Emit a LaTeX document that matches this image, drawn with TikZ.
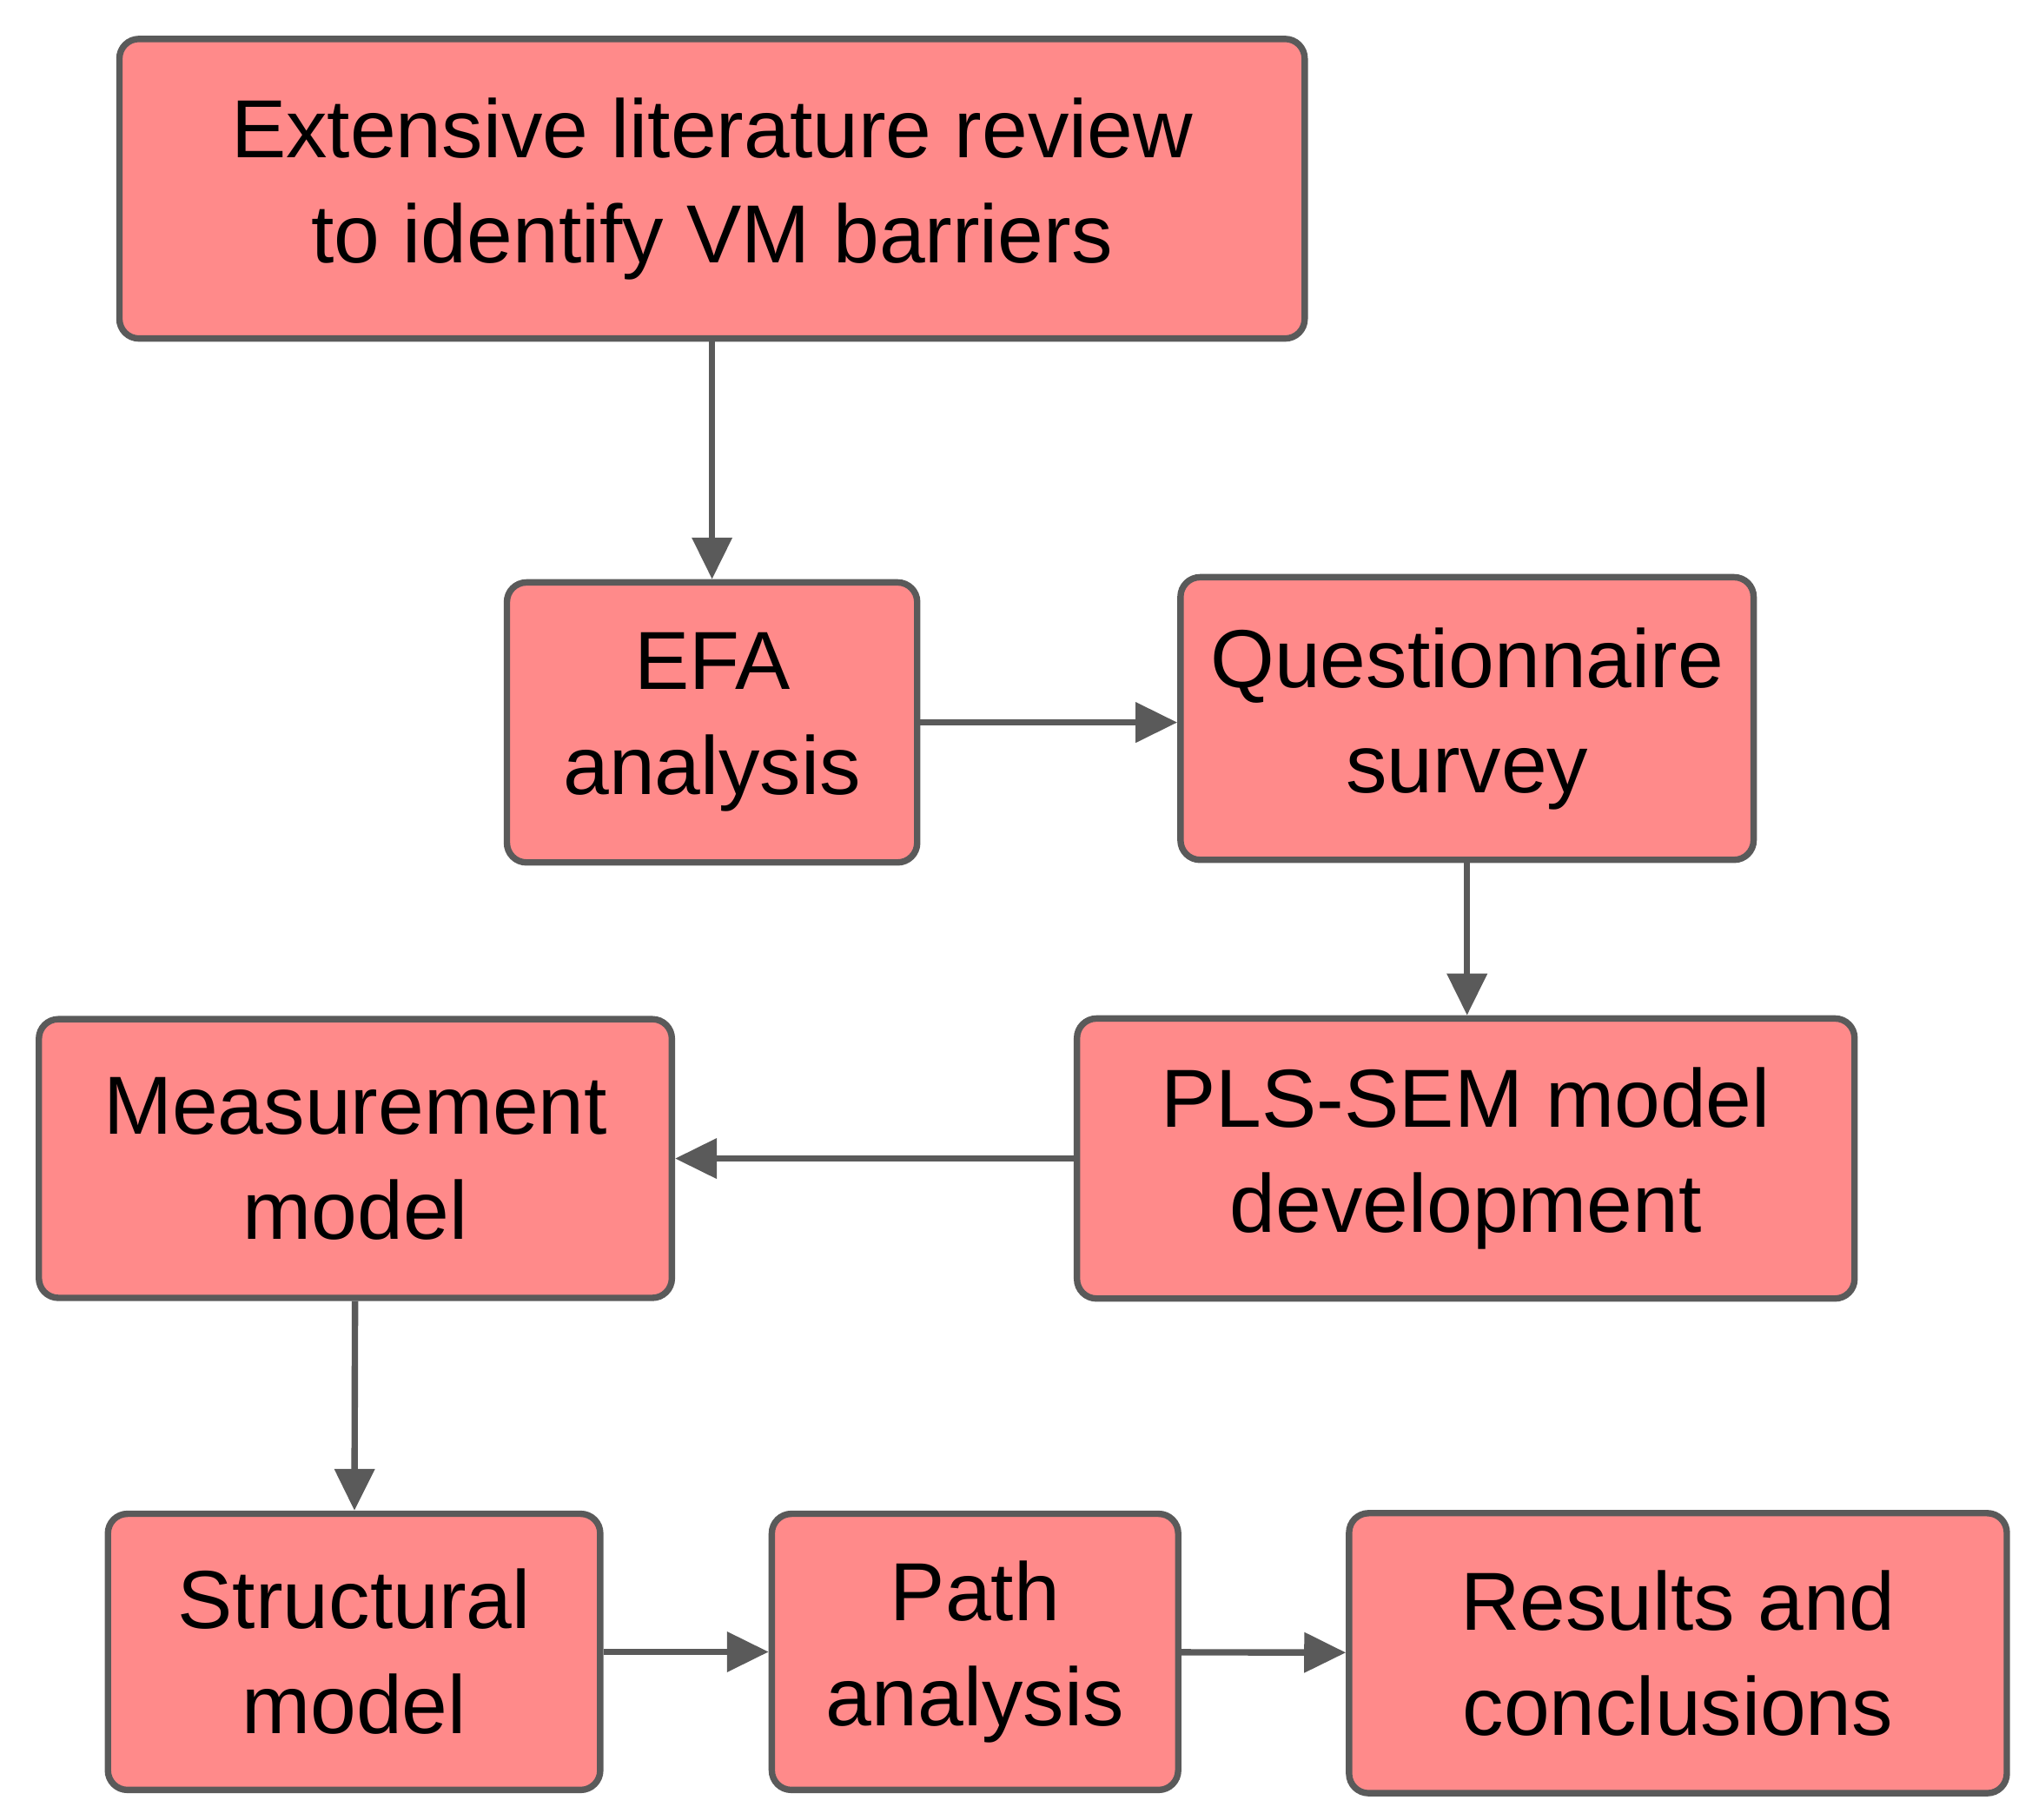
\documentclass[tikz,border=0pt]{standalone}
\usepackage{fontspec}
\setmainfont{Liberation Sans}
\usetikzlibrary{arrows.meta}
\definecolor{boxfill}{HTML}{FF8A8A}
\definecolor{boxline}{HTML}{5A5A5A}
\begin{document}
\begin{tikzpicture}[x=0.01cm,y=-0.01cm]
  \tikzset{stage/.style={rectangle, rounded corners=0.15cm, draw=boxline, fill=boxfill,
      line width=1.4pt, align=center, inner sep=0pt,
      font=\fontsize{18}{23}\selectfont}}
  \tikzset{flow/.style={draw=boxline, line width=1.4pt, -{Triangle[length=0.32cm,width=0.3cm]}}}
  \useasboundingbox (0,0) rectangle (1561,1398);
  \node [stage, minimum width=9.1cm, minimum height=2.3cm] at (547,145) (review) {Extensive literature review\\to identify VM barriers};
  \node [stage, minimum width=3.15cm, minimum height=2.15cm] at (547,555) (efa) {EFA\\analysis};
  \node [stage, minimum width=4.4cm, minimum height=2.17cm] at (1127,552) (survey) {Questionnaire\\survey};
  \node [stage, minimum width=5.97cm, minimum height=2.15cm] at (1126,890) (plssem) {PLS-SEM model\\development};
  \node [stage, minimum width=4.86cm, minimum height=2.14cm] at (273,890) (measure) {Measurement\\model};
  \node [stage, minimum width=3.78cm, minimum height=2.12cm] at (272,1269) (struct) {Structural\\model};
  \node [stage, minimum width=3.12cm, minimum height=2.12cm] at (749,1269) (path) {Path\\analysis};
  \node [stage, minimum width=5.05cm, minimum height=2.15cm] at (1289,1270) (results) {Results and\\conclusions};
  \draw[flow] (review) -- (efa);
  \draw[flow] (efa.east |- 0,555) -- (survey.west |- 0,555);
  \draw[flow] (survey) -- (survey |- plssem.north);
  \draw[flow] (plssem) -- (measure);
  \draw[flow] (measure) -- (struct);
  \draw[flow] (struct) -- (path);
  \draw[flow] (path) -- (results);
\end{tikzpicture}
\end{document}
